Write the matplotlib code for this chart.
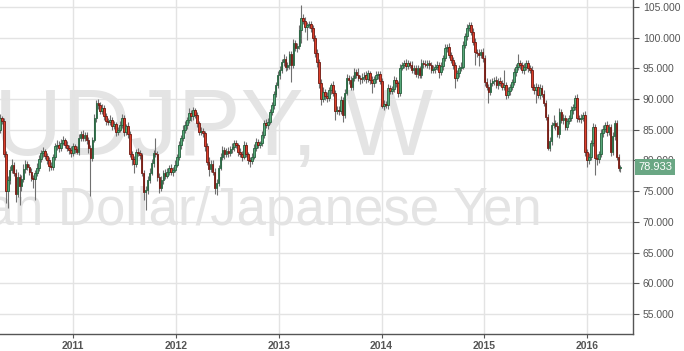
import numpy as np
import pandas as pd
import matplotlib
matplotlib.use('Agg')
import matplotlib.pyplot as plt
import matplotlib.dates as mdates
import matplotlib.transforms as mtransforms

# weekly AUDJPY candles, first week starting mid April 2010
first_week = '2010-04-16'
first_open = 85.0

closes = [
    86.9, 86.5, 81.0, 75.0, 76.8, 78.5, 79.2, 78.0, 74.6, 77.3,
    75.8, 77.0, 78.6, 79.4, 79.0, 78.2, 77.1, 77.0, 77.9, 78.7,
    80.3, 81.2, 81.5, 80.8, 80.0, 79.1, 78.9, 80.6, 82.3, 82.6,
    82.0, 82.9, 83.3, 82.6, 82.1, 81.7, 81.3, 82.3, 81.9, 81.4,
    83.7, 84.3, 83.6, 84.2, 83.3, 82.0, 80.4, 83.4, 86.9, 89.3,
    89.0, 88.0, 88.6, 87.2, 86.4, 86.2, 86.6, 85.6, 85.9, 84.7,
    85.0, 85.8, 86.9, 84.6, 85.6, 84.3, 81.0, 80.2, 79.4, 81.4,
    81.2, 80.9, 78.0, 74.8, 75.2, 76.9, 78.0, 79.6, 81.2, 81.0,
    77.3, 75.6, 76.8, 78.0, 77.5, 78.2, 78.8, 78.1, 78.5, 79.3,
    80.6, 82.5, 83.6, 85.0, 85.8, 86.6, 87.7, 87.2, 88.2, 87.4,
    86.1, 84.6, 84.8, 84.4, 82.3, 79.8, 78.6, 79.5, 78.2, 75.6,
    76.4, 78.8, 80.6, 81.7, 81.1, 81.6, 81.2, 81.8, 82.2, 82.8,
    82.5, 81.4, 81.0, 80.6, 82.5, 81.0, 80.1, 79.9, 80.6, 82.0,
    83.0, 82.6, 82.8, 84.2, 86.1, 85.8, 86.3, 87.9, 89.0, 90.8,
    92.3, 93.9, 94.7, 96.0, 96.6, 95.2, 95.5, 97.3, 95.6, 99.1,
    98.3, 98.6, 101.3, 103.2, 102.8, 101.7, 102.0, 102.3, 101.5, 99.9,
    97.5, 96.0, 92.6, 90.0, 91.2, 90.5, 90.1, 91.5, 92.3, 91.0,
    88.0, 88.3, 88.0, 89.9, 87.4, 91.0, 93.4, 93.1, 92.0, 93.4,
    94.4, 94.0, 93.4, 93.2, 93.6, 93.9, 93.2, 94.2, 93.1, 92.6,
    93.2, 93.9, 94.1, 93.0, 88.9, 89.2, 89.0, 91.8, 91.3, 91.6,
    93.1, 92.6, 91.0, 95.1, 95.5, 95.9, 95.4, 95.8, 95.6, 94.7,
    95.0, 94.1, 95.0, 93.9, 95.9, 95.7, 95.6, 95.8, 95.5, 94.7,
    94.9, 95.2, 95.5, 94.4, 95.4, 96.7, 98.3, 98.5, 97.2, 96.4,
    95.5, 93.4, 94.2, 95.0, 95.3, 98.8, 100.2, 101.6, 102.0, 101.0,
    99.3, 97.7, 97.5, 97.2, 97.7, 96.7, 92.8, 92.0, 91.2, 92.6,
    92.9, 93.1, 92.3, 93.0, 92.6, 92.0, 92.3, 90.7, 91.3, 92.0,
    92.8, 94.4, 95.2, 95.9, 95.5, 94.7, 95.3, 95.8, 95.0, 94.8,
    92.0, 91.4, 92.0, 90.6, 91.8, 90.9, 89.4, 87.1, 82.0, 83.2,
    85.8, 86.1, 85.6, 84.3, 87.9, 86.6, 86.9, 85.5, 86.4, 86.9,
    88.2, 88.7, 90.2, 86.9, 86.7, 87.0, 87.4, 81.4, 80.1, 80.6,
    82.9, 85.5, 80.4, 80.2, 81.0, 84.5, 85.2, 85.8, 84.6, 85.5,
    81.4, 84.0, 86.1, 80.6, 78.8, 78.933,
]

# wick lengths above / below the body
upper_wick = [
    0.6, 0.4, 0.5, 0.6, 0.7, 0.6, 1.0, 0.5, 0.6, 0.8,
    0.5, 0.6, 0.8, 0.7, 0.5, 0.4, 0.6, 0.5, 0.6, 0.9,
    0.6, 0.5, 0.7, 0.4, 0.5, 0.5, 0.6, 0.4, 0.6, 0.7,
    0.5, 0.6, 0.7, 0.4, 0.5, 0.4, 0.6, 0.5, 0.4, 0.5,
    0.6, 0.5, 0.7, 0.5, 0.4, 0.5, 0.6, 0.5, 0.6, 0.5,
    0.7, 0.5, 0.6, 0.4, 0.5, 0.6, 0.8, 0.5, 0.6, 0.4,
    0.5, 0.7, 0.6, 0.5, 0.4, 0.6, 0.5, 0.6, 0.5, 0.4,
    0.6, 0.5, 0.4, 0.5, 0.6, 0.5, 0.7, 0.6, 0.5, 2.5,
    0.5, 0.6, 0.7, 0.5, 0.6, 0.5, 0.4, 0.6, 0.5, 0.7,
    0.5, 0.6, 0.5, 0.7, 0.6, 0.5, 0.8, 0.6, 0.5, 0.4,
    0.5, 0.4, 0.6, 0.5, 0.4, 0.5, 0.7, 0.6, 0.5, 0.5,
    0.6, 0.5, 0.6, 0.7, 0.5, 0.4, 0.6, 0.5, 0.6, 0.5,
    0.5, 0.4, 0.6, 0.5, 0.6, 0.5, 0.4, 0.5, 0.6, 0.7,
    0.6, 0.5, 0.4, 0.6, 0.5, 0.7, 0.6, 0.5, 0.6, 0.5,
    0.5, 0.6, 0.7, 0.6, 0.8, 0.5, 0.6, 0.5, 0.6, 0.7,
    0.6, 0.5, 0.7, 2.1, 0.6, 0.5, 0.6, 0.4, 0.5, 0.6,
    0.5, 0.6, 0.5, 0.6, 0.7, 0.5, 0.6, 0.5, 0.4, 0.6,
    0.5, 0.6, 0.5, 0.6, 0.5, 0.6, 0.7, 0.5, 0.6, 0.5,
    0.6, 0.5, 1.1, 0.5, 0.6, 0.5, 0.6, 0.5, 0.4, 0.6,
    0.5, 0.6, 0.5, 0.4, 0.5, 0.6, 0.5, 0.7, 0.5, 0.6,
    0.6, 0.5, 0.4, 0.6, 0.5, 0.5, 0.6, 0.5, 0.4, 0.6,
    0.5, 0.6, 0.5, 0.4, 0.6, 0.5, 0.6, 0.5, 0.6, 0.5,
    0.6, 0.5, 0.7, 0.5, 0.6, 0.5, 0.6, 0.5, 0.6, 0.5,
    0.5, 0.6, 0.5, 0.6, 0.7, 0.6, 0.5, 0.6, 0.6, 0.5,
    0.5, 0.6, 0.5, 0.6, 0.5, 0.6, 0.5, 0.6, 0.5, 0.6,
    0.6, 0.5, 0.6, 0.5, 0.6, 0.5, 2.4, 0.5, 0.6, 0.5,
    0.5, 0.6, 0.5, 1.4, 0.5, 0.6, 0.5, 0.6, 0.5, 0.6,
    0.6, 0.5, 0.6, 0.5, 0.6, 0.5, 0.6, 0.5, 0.4, 0.6,
    0.5, 1.3, 0.5, 0.6, 0.6, 0.5, 0.6, 0.5, 0.6, 0.5,
    0.6, 0.5, 0.5, 0.6, 0.5, 0.6, 0.5, 0.6, 0.5, 0.6,
    0.5, 0.6, 0.5, 0.6, 0.5, 0.6, 0.5, 0.5, 0.6, 0.5,
    0.5, 0.6, 0.5, 0.5, 0.5, 0.3,
]

lower_wick = [
    0.5, 0.6, 0.4, 2.0, 2.7, 0.6, 0.5, 0.6, 1.3, 0.6,
    3.0, 0.7, 0.5, 0.6, 0.5, 0.6, 0.5, 1.5, 3.4, 0.5,
    0.4, 0.5, 0.6, 0.5, 0.6, 0.8, 0.5, 0.4, 0.5, 0.6,
    0.6, 0.5, 0.4, 0.6, 0.5, 0.6, 0.7, 0.5, 0.6, 0.4,
    0.5, 0.6, 0.5, 0.4, 0.6, 0.7, 6.2, 0.5, 0.4, 0.6,
    0.6, 0.5, 0.4, 0.6, 0.7, 0.5, 0.4, 0.6, 0.5, 0.7,
    0.6, 0.4, 0.5, 0.6, 0.5, 0.7, 0.5, 1.0, 1.4, 0.5,
    0.5, 0.6, 0.5, 1.2, 2.8, 0.6, 0.5, 0.4, 0.6, 0.5,
    0.7, 0.9, 0.5, 0.6, 0.5, 0.4, 0.6, 0.5, 0.6, 0.4,
    0.4, 0.5, 0.6, 0.4, 0.5, 0.6, 0.5, 0.7, 0.6, 0.5,
    0.6, 0.5, 0.4, 0.6, 0.7, 0.5, 1.1, 0.5, 0.6, 1.0,
    1.2, 0.5, 0.4, 0.6, 0.8, 0.5, 0.6, 0.4, 0.5, 0.6,
    0.5, 0.6, 0.5, 0.7, 0.4, 0.5, 0.6, 0.9, 0.5, 0.4,
    0.5, 0.6, 0.5, 0.4, 0.6, 0.5, 0.7, 0.4, 0.5, 0.6,
    0.4, 0.5, 0.6, 0.5, 0.6, 0.7, 0.5, 0.6, 2.8, 0.5,
    0.5, 0.6, 0.5, 2.2, 0.6, 0.7, 2.0, 0.5, 0.6, 0.5,
    0.6, 0.7, 0.8, 1.0, 0.5, 0.6, 0.5, 0.4, 0.6, 0.5,
    1.4, 0.5, 0.6, 0.5, 1.1, 0.5, 0.4, 0.6, 0.5, 0.6,
    0.5, 0.6, 0.5, 0.7, 0.5, 0.6, 0.5, 0.4, 0.6, 1.6,
    0.6, 0.5, 0.6, 0.5, 0.4, 0.6, 0.5, 0.6, 0.5, 0.4,
    0.5, 0.6, 0.7, 0.5, 0.4, 0.5, 0.6, 0.5, 0.6, 0.5,
    0.6, 0.5, 0.6, 0.5, 0.5, 0.6, 0.4, 0.5, 0.6, 0.5,
    0.5, 0.6, 0.5, 1.0, 0.5, 0.6, 0.5, 0.6, 0.5, 0.6,
    0.6, 1.6, 0.5, 0.6, 0.5, 0.4, 0.5, 0.6, 0.5, 0.6,
    0.5, 2.2, 0.6, 1.8, 0.5, 0.6, 0.7, 0.6, 1.8, 0.5,
    0.5, 0.6, 0.5, 0.6, 0.5, 0.6, 0.5, 0.7, 0.5, 0.6,
    0.6, 0.5, 0.6, 0.5, 0.6, 0.5, 0.6, 0.5, 0.6, 0.5,
    0.5, 0.6, 2.0, 0.5, 0.6, 0.5, 0.6, 0.5, 0.3, 0.5,
    0.6, 0.5, 0.6, 0.5, 0.6, 0.5, 0.6, 0.5, 0.6, 0.5,
    0.5, 0.6, 0.5, 0.6, 0.5, 0.6, 0.5, 0.7, 1.1, 0.6,
    0.6, 0.5, 2.8, 1.0, 0.6, 0.5, 0.6, 0.5, 0.6, 0.5,
    0.6, 0.5, 0.6, 0.5, 0.5, 0.6,
]

price_ticks = [55, 60, 65, 70, 75, 80, 85, 90, 95, 100, 105]
year_ticks = [2011, 2012, 2013, 2014, 2015, 2016]
last_price = 78.933

closes = np.array(closes)
opens = np.concatenate([[first_open], closes[:-1]])
highs = np.maximum(opens, closes) + np.array(upper_wick)
lows = np.minimum(opens, closes) - np.array(lower_wick)
dates = pd.date_range(first_week, periods=len(closes), freq='7D')
x = mdates.date2num(dates)

W, H = 684, 351
fig = plt.figure(figsize=(W / 100, H / 100), dpi=100)
ax = fig.add_axes([0, 17 / H, 633 / W, 334 / H])

# px -> days from the year ticks (2011 at 73px, 2016 at 587px)
t2011 = mdates.date2num(pd.Timestamp('2011-01-01'))
dpp = (mdates.date2num(pd.Timestamp('2016-01-01')) - t2011) / (587 - 73)
ax.set_xlim(t2011 - 73 * dpp, t2011 + (633 - 73) * dpp)
ax.set_ylim(51.74, 106.14)

# watermark
wm = '#e4e4e4'
ax.text(433 / 633, (334 - 155) / 334, 'AUDJPY, W', transform=ax.transAxes,
        ha='right', va='baseline', fontsize=68, color=wm,
        family='Liberation Sans', zorder=0)
ax.text(542 / 633, (334 - 225) / 334, 'Australian Dollar/Japanese Yen',
        transform=ax.transAxes, ha='right', va='baseline', fontsize=38,
        color=wm, family='Liberation Sans', zorder=0)

ax.grid(True, color='#e3e3e3', lw=1.0, zorder=0.5)
ax.set_axisbelow(True)

up = closes >= opens
fill = np.where(up, '#58a87a', '#dd3f2b')
edge = np.where(up, '#24603c', '#6e1710')
ax.vlines(x, lows, highs, color='#707070', lw=0.8, zorder=2)
body = np.maximum(np.abs(closes - opens), 0.12)
ax.bar(x, body, width=5.8, bottom=np.minimum(opens, closes), color=fill,
       edgecolor=edge, linewidth=0.6, zorder=3)

ax.yaxis.tick_right()
ax.set_yticks(price_ticks)
ax.set_yticklabels(['%.3f' % v for v in price_ticks])
ax.set_xticks([mdates.date2num(pd.Timestamp('%d-01-01' % y)) for y in year_ticks])
ax.set_xticklabels([str(y) for y in year_ticks], fontweight='bold')
ax.tick_params(axis='y', right=True, left=False, length=4, width=0.8,
               color='#555555', labelcolor='#555555', labelsize=7.5, pad=3)
ax.tick_params(axis='x', length=3, width=0.8, color='#555555',
               labelcolor='#555555', labelsize=7.5, pad=2)
for lab in ax.get_xticklabels() + ax.get_yticklabels():
    lab.set_family('Liberation Sans')

for s in ['top', 'left']:
    ax.spines[s].set_visible(False)
for s in ['right', 'bottom']:
    ax.spines[s].set_color('#555555')
    ax.spines[s].set_linewidth(1.0)

tr = mtransforms.blended_transform_factory(ax.transAxes, ax.transData)
ax.text(1.0 + 5 / 633, last_price, '%.3f' % last_price, transform=tr,
        ha='left', va='center', fontsize=8, color='white',
        family='Liberation Sans', clip_on=False, zorder=10,
        bbox=dict(boxstyle='square,pad=0.3', fc='#6aa784', ec='none'))

fig.savefig('out.png', dpi=100, facecolor='white')
